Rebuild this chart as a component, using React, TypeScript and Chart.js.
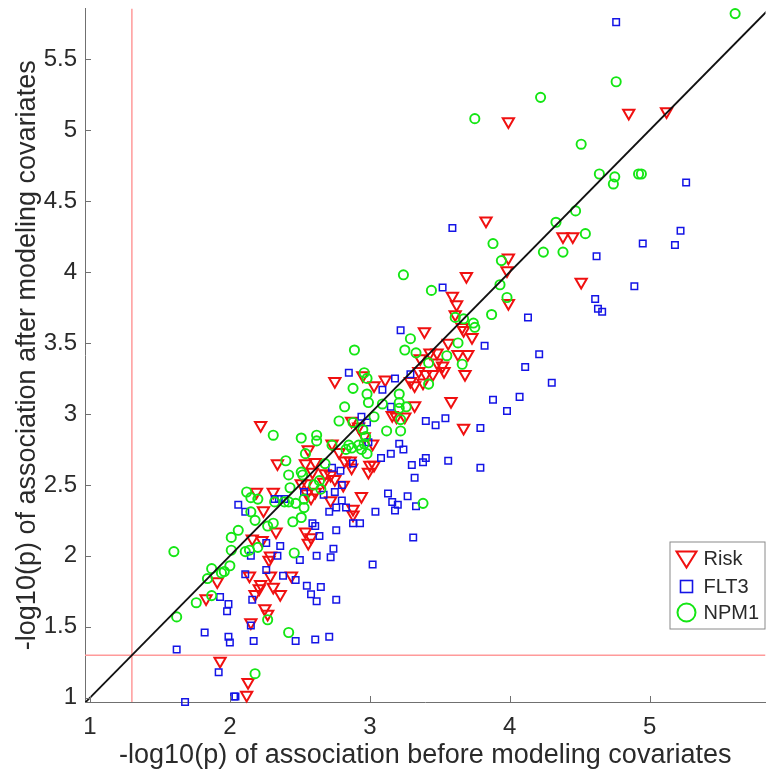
import React, { useEffect, useRef } from 'react';
import { Chart, registerables } from 'chart.js';

Chart.register(...registerables);

const FONT = '"Liberation Sans", Arial, Helvetica, sans-serif';

// ---- Data ----
const seriesNames = ['Risk', 'FLT3', 'NPM1'];

const riskX = [
  2.34, 2.19, 2.31, 2.24, 2.33, 2.16, 2.23, 2.29, 2.28, 1.91, 1.83, 2.14, 2.22, 2.21, 2.29, 2.31, 2.36, 2.18, 2.25, 2.27, 2.15, 2.44, 1.93, 2.13, 2.12,
  2.75, 2.22, 2.56, 2.73, 2.78, 2.54, 2.61, 2.72, 2.75, 2.67, 2.82, 2.86, 2.55, 2.58, 2.72, 2.88,
  3.59, 3.39, 3.56, 3.43, 3.48, 3.36, 3.48, 3.52, 3.53, 3.35, 3.40, 3.45, 3.29, 3.32, 3.38, 3.58, 2.95, 3.03, 3.11, 3.32, 3.16, 3.19, 3.25, 2.87, 2.92, 2.96, 3.02,
  2.59, 2.68, 2.81, 3.00, 3.03, 2.99, 2.87, 2.94, 2.88, 2.61, 2.51, 2.55, 2.54, 2.58, 2.56,
  3.83, 3.99, 3.98, 3.69, 3.62, 3.61, 3.99, 3.66, 3.67, 3.73, 3.63, 3.70, 3.68,
  3.99, 4.85, 5.12, 4.38, 4.45, 4.51, 3.67,
];
const riskY = [
  2.65, 2.45, 2.45, 2.32, 2.17, 2.12, 2.11, 2.00, 1.97, 1.82, 1.70, 1.86, 1.80, 1.77, 1.86, 1.78, 1.73, 1.73, 1.63, 1.59, 1.53, 1.86, 1.26, 1.11, 1.02,
  3.23, 2.92, 2.75, 2.79, 2.73, 2.65, 2.66, 2.57, 2.54, 2.52, 2.67, 2.67, 2.44, 2.41, 2.39, 2.29,
  3.83, 3.58, 3.50, 3.43, 3.43, 3.39, 3.36, 3.34, 3.30, 3.30, 3.28, 3.28, 3.23, 3.20, 3.22, 3.09, 3.27, 3.20, 3.24, 3.06, 2.99, 2.98, 2.98, 2.95, 2.91, 2.84, 2.79,
  2.59, 2.58, 2.50, 2.64, 2.64, 2.59, 2.62, 2.42, 2.33, 2.45, 2.51, 2.51, 2.17, 2.13, 2.09,
  4.36, 4.10, 4.01, 3.97, 3.77, 3.70, 3.78, 3.61, 3.59, 3.54, 3.42, 3.42, 3.28,
  5.06, 5.12, 5.13, 4.25, 4.25, 3.93, 2.90,
];

const flt3X = [
  2.06, 2.11, 2.26, 2.36, 2.34, 2.15, 2.11, 2.26, 2.38, 2.47, 1.93, 1.99, 1.98, 2.16, 2.15, 1.82, 1.99, 2.00, 2.17, 1.62, 1.92, 2.03, 2.04, 1.68, 2.47, 2.32, 2.35, 2.39,
  2.85, 2.73, 2.79, 2.88, 2.80, 2.75, 2.67, 2.53, 2.80, 2.83, 2.76, 2.71, 2.59, 2.61, 2.76, 2.88,
  3.22, 3.18, 3.29, 3.09, 2.94, 2.98, 3.15, 3.40, 3.47, 3.54, 2.99, 3.21, 3.24, 3.15, 3.08, 3.40, 3.56, 3.30, 3.38,
  3.32, 3.13, 3.16, 3.20, 3.18, 3.27, 3.33, 3.04,
  2.93, 2.64, 3.31, 2.74, 2.72, 2.62, 2.50, 3.02, 2.55, 2.65, 2.58, 2.62, 2.76, 2.61, 2.71,
  3.59, 3.52, 4.13, 3.82, 4.21, 4.11, 4.30, 3.88, 4.07, 5.26, 5.22, 5.18, 4.95, 4.62, 4.89, 4.61, 4.63, 4.66, 4.76, 3.98, 3.79, 3.79,
];
const flt3Y = [
  2.36, 2.31, 2.09, 2.07, 2.00, 2.00, 1.87, 1.90, 1.86, 1.83, 1.71, 1.66, 1.61, 1.69, 1.51, 1.46, 1.43, 1.39, 1.40, 1.34, 1.18, 1.01, 1.01, 0.97, 1.40, 2.40, 2.40, 2.40,
  3.29, 2.62, 2.60, 2.65, 2.50, 2.45, 2.43, 2.45, 2.39, 2.34, 2.34, 2.31, 2.23, 2.21, 2.18, 2.23,
  3.59, 3.25, 3.28, 3.17, 2.98, 2.94, 3.05, 2.95, 2.92, 2.97, 2.80, 2.79, 2.75, 2.72, 2.69, 2.69, 2.67, 2.64, 2.66,
  2.55, 2.44, 2.38, 2.36, 2.32, 2.42, 2.35, 2.31,
  2.23, 2.14, 2.13, 2.05, 1.99, 2.00, 1.97, 1.94, 1.79, 1.78, 1.73, 1.68, 1.69, 1.41, 1.43,
  4.31, 3.89, 3.68, 3.48, 3.42, 3.33, 3.22, 3.10, 3.12, 4.63, 4.29, 4.19, 4.20, 4.11, 3.90, 3.81, 3.74, 3.72, 5.76, 3.02, 2.90, 2.62,
];

const npm1X = [
  1.60, 1.62, 1.76, 1.84, 1.87, 1.87, 1.94, 1.96, 2.00, 2.01, 2.01, 2.06, 2.12, 2.15, 2.20, 2.15, 2.18, 2.11, 2.14, 2.20, 2.27, 2.18, 2.42, 2.40, 2.42, 2.45, 2.46, 2.31, 2.27, 2.39, 2.42,
  2.88, 2.82, 2.78, 2.31, 2.51, 2.62, 2.62, 2.54, 2.51, 2.52, 2.60, 2.64, 2.65, 2.68, 2.85, 2.83, 2.87, 2.43, 2.47, 2.53, 2.51,
  3.44, 3.29, 3.25, 3.33, 2.89, 3.42, 3.55, 3.42, 2.96, 2.98, 2.98, 2.99, 3.09, 3.21, 3.21, 3.21, 3.22, 3.26, 3.03, 3.12, 3.22, 2.88, 2.95, 2.97, 2.73, 2.92, 2.96, 2.98, 2.94,
  2.53, 2.32, 3.38,
  3.88, 4.24, 3.94, 3.24, 3.93, 3.98, 3.87, 3.61, 3.67, 3.74, 3.75, 3.63, 3.66, 4.33,
  4.76, 4.22, 3.75, 4.51, 4.64, 4.75, 4.74, 4.92, 4.94, 4.47, 4.54, 4.38, 5.61,
];
const npm1Y = [
  2.03, 1.57, 1.67, 1.84, 1.91, 1.72, 1.88, 1.89, 1.93, 2.04, 2.13, 2.18, 2.45, 2.41, 2.40, 2.31, 2.25, 2.03, 2.04, 2.06, 1.55, 1.17, 1.46, 2.67, 2.57, 2.24, 2.02, 2.23, 2.21, 2.38, 2.38,
  3.18, 3.05, 2.95, 2.85, 2.83, 2.85, 2.81, 2.72, 2.59, 2.57, 2.50, 2.53, 2.47, 2.65, 2.78, 2.75, 2.76, 2.48, 2.37, 2.34, 2.27,
  3.87, 3.53, 3.45, 3.43, 3.45, 3.36, 3.41, 3.21, 3.29, 3.25, 3.14, 3.08, 3.07, 3.14, 3.08, 3.04, 2.96, 3.05, 2.98, 2.88, 2.88, 2.94, 2.89, 2.84, 2.78, 2.78, 2.79, 2.72, 2.75,
  2.40, 2.38, 2.37,
  4.20, 4.14, 4.08, 3.98, 3.91, 3.82, 3.70, 3.68, 3.67, 3.64, 3.61, 3.50, 3.35, 4.35,
  5.34, 5.23, 5.08, 4.90, 4.69, 4.67, 4.62, 4.69, 4.69, 4.43, 4.27, 4.14, 5.82,
];

const xTickValues = [1, 2, 3, 4, 5];
const yTickValues = [1, 1.5, 2, 2.5, 3, 3.5, 4, 4.5, 5, 5.5];
const xLimits = [0.965, 5.827];
const yLimits = [0.9705, 5.856];
const significance = 1.3; // -log10(0.05)

const xTitle = '-log10(p) of association before modeling covariates';
const yTitle = '-log10(p) of association after modeling covariates';

// ---- Styles ----
const RED = '#f01010';
const BLUE = '#1414e6';
const GREEN = '#14e614';
const AXIS = '#707070';
const TEXT = '#2a2a2a';

const toPoints = (xs: number[], ys: number[]) => xs.map((x, i) => ({ x, y: ys[i] }));

const inwardTicks = {
  id: 'inwardTicks',
  afterDatasetsDraw(chart: any) {
    const { ctx, chartArea, scales } = chart;
    ctx.save();
    ctx.strokeStyle = AXIS;
    ctx.lineWidth = 1;
    ctx.beginPath();
    xTickValues.forEach((v) => {
      const px = Math.round(scales.x.getPixelForValue(v)) + 0.5;
      ctx.moveTo(px, chartArea.bottom);
      ctx.lineTo(px, chartArea.bottom - 6);
    });
    yTickValues.forEach((v) => {
      const py = Math.round(scales.y.getPixelForValue(v)) + 0.5;
      ctx.moveTo(chartArea.left, py);
      ctx.lineTo(chartArea.left + 6, py);
    });
    ctx.stroke();
    ctx.restore();
  },
};

const boxLegend = {
  id: 'boxLegend',
  afterDraw(chart: any) {
    const { ctx, chartArea } = chart;
    const right = chartArea.right - 1;
    const left = right - 95;
    const top = chartArea.top + 533;
    const h = 87;
    ctx.save();
    ctx.fillStyle = '#ffffff';
    ctx.fillRect(left, top, right - left, h);
    ctx.strokeStyle = '#8a8a8a';
    ctx.lineWidth = 1;
    ctx.strokeRect(left + 0.5, top + 0.5, right - left, h);
    const mx = left + 17;
    const rows = [top + 17, top + 45, top + 71];
    // Risk: inverted triangle
    ctx.lineWidth = 2;
    ctx.strokeStyle = RED;
    ctx.beginPath();
    ctx.moveTo(mx - 10, rows[0] - 7);
    ctx.lineTo(mx + 10, rows[0] - 7);
    ctx.lineTo(mx, rows[0] + 9);
    ctx.closePath();
    ctx.stroke();
    // FLT3: square
    ctx.lineWidth = 1.6;
    ctx.strokeStyle = BLUE;
    ctx.strokeRect(mx - 6, rows[1] - 6, 12, 12);
    // NPM1: circle
    ctx.lineWidth = 2;
    ctx.strokeStyle = GREEN;
    ctx.beginPath();
    ctx.arc(mx, rows[2], 9, 0, Math.PI * 2);
    ctx.stroke();
    ctx.fillStyle = TEXT;
    ctx.font = `20px ${FONT}`;
    ctx.textAlign = 'left';
    ctx.textBaseline = 'middle';
    seriesNames.forEach((name, i) => ctx.fillText(name, left + 34, rows[i] + 1));
    ctx.restore();
  },
};

export default function App() {
  const ref = useRef<HTMLCanvasElement | null>(null);

  useEffect(() => {
    if (!ref.current) return;
    Chart.defaults.font.family = FONT;
    const diagEnd = Math.max(xLimits[1], yLimits[1]) + 0.1;
    const chart = new Chart(ref.current, {
      type: 'scatter',
      data: {
        datasets: [
          {
            label: 'y = x',
            data: [
              { x: xLimits[0], y: xLimits[0] },
              { x: diagEnd, y: diagEnd },
            ],
            showLine: true,
            pointRadius: 0,
            borderColor: '#111111',
            borderWidth: 1.8,
            order: 0,
          } as any,
          {
            label: 'vertical threshold',
            data: [
              { x: significance, y: yLimits[0] },
              { x: significance, y: yLimits[1] },
            ],
            showLine: true,
            pointRadius: 0,
            borderColor: '#ff9a9a',
            borderWidth: 1.5,
            order: 6,
          } as any,
          {
            label: 'horizontal threshold',
            data: [
              { x: xLimits[0], y: significance },
              { x: xLimits[1], y: significance },
            ],
            showLine: true,
            pointRadius: 0,
            borderColor: '#ff9a9a',
            borderWidth: 1.5,
            order: 6,
          } as any,
          {
            label: seriesNames[2],
            data: toPoints(npm1X, npm1Y),
            pointStyle: 'circle',
            pointRadius: 4.6,
            pointBorderWidth: 1.9,
            pointBorderColor: GREEN,
            borderColor: GREEN,
            pointBackgroundColor: 'rgba(0,0,0,0)',
            backgroundColor: 'rgba(0,0,0,0)',
            clip: false,
            order: 2,
          } as any,
          {
            label: seriesNames[1],
            data: toPoints(flt3X, flt3Y),
            pointStyle: 'rect',
            pointRadius: 4.6,
            pointBorderWidth: 1.5,
            pointBorderColor: BLUE,
            borderColor: BLUE,
            pointBackgroundColor: 'rgba(0,0,0,0)',
            backgroundColor: 'rgba(0,0,0,0)',
            clip: false,
            order: 3,
          } as any,
          {
            label: seriesNames[0],
            data: toPoints(riskX, riskY),
            pointStyle: 'triangle',
            pointRotation: 180,
            pointRadius: 6.5,
            pointBorderWidth: 2,
            pointBorderColor: RED,
            borderColor: RED,
            pointBackgroundColor: 'rgba(0,0,0,0)',
            backgroundColor: 'rgba(0,0,0,0)',
            clip: false,
            order: 4,
          } as any,
        ],
      },
      options: {
        animation: false,
        responsive: false,
        devicePixelRatio: 1,
        events: [],
        layout: { padding: { top: 7, right: 0, bottom: 0, left: 0 } },
        plugins: {
          legend: { display: false },
          tooltip: { enabled: false },
        },
        scales: {
          x: {
            type: 'linear',
            min: xLimits[0],
            max: xLimits[1],
            afterBuildTicks: (s: any) => {
              s.ticks = xTickValues.map((value) => ({ value }));
            },
            afterFit: (s: any) => {
              s.height = 76;
              s.paddingLeft = 0;
              s.paddingRight = 0;
            },
            grid: { display: false, drawTicks: false },
            border: { display: true, color: AXIS, width: 1 },
            ticks: {
              color: TEXT,
              font: { size: 24, family: FONT },
              padding: 11,
              maxRotation: 0,
              callback: (v: any) => String(v),
            },
            title: {
              display: true,
              text: xTitle,
              color: TEXT,
              font: { size: 27, family: FONT },
              padding: { top: 0, bottom: 6 },
            },
          },
          y: {
            type: 'linear',
            min: yLimits[0],
            max: yLimits[1],
            afterBuildTicks: (s: any) => {
              s.ticks = yTickValues.map((value) => ({ value }));
            },
            afterFit: (s: any) => {
              s.width = 85;
              s.paddingTop = 0;
              s.paddingBottom = 0;
            },
            grid: { display: false, drawTicks: false },
            border: { display: true, color: AXIS, width: 1 },
            ticks: {
              color: TEXT,
              font: { size: 24, family: FONT },
              padding: 8,
              callback: (v: any) => String(v),
            },
            title: {
              display: true,
              text: yTitle,
              color: TEXT,
              font: { size: 27, family: FONT },
              padding: { top: 11, bottom: 0 },
            },
          },
        },
      },
      plugins: [inwardTicks, boxLegend],
    } as any);
    return () => chart.destroy();
  }, []);

  return (
    <div style={{ position: 'absolute', left: 0, top: 0, width: 774, height: 778, background: '#ffffff' }}>
      <canvas ref={ref} width={774} height={778} style={{ display: 'block', width: 774, height: 778 }} />
    </div>
  );
}
